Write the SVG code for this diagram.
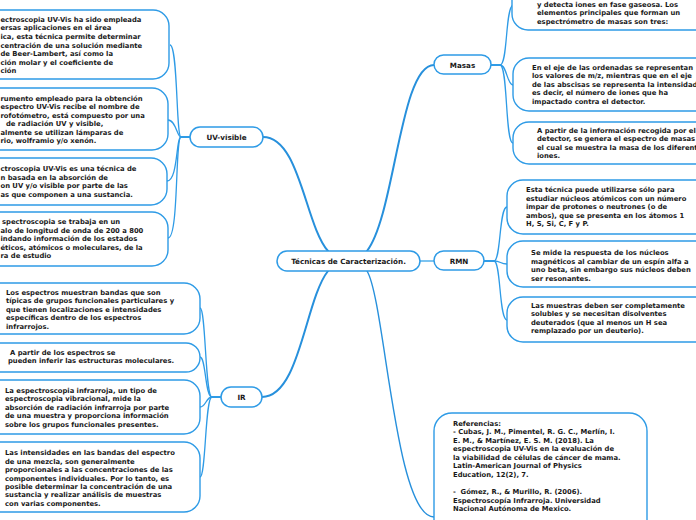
<svg xmlns="http://www.w3.org/2000/svg" width="696" height="520" viewBox="0 0 696 520">
<style>
.box{fill:#fff;stroke:#2e9be6;stroke-width:1.4}
.node{fill:#fff;stroke:#2e9be6;stroke-width:1.5}
.t{font-family:"DejaVu Sans",Verdana,sans-serif;font-weight:bold;font-size:6.8px;fill:#1a1a1a}
.h{font-family:"DejaVu Sans",Verdana,sans-serif;font-weight:bold;font-size:7.2px;fill:#1a1a1a;text-anchor:middle}
.main{fill:none;stroke:#2790dc;stroke-width:2;stroke-linecap:round}
.sub{fill:none;stroke:#2e9be6;stroke-width:1.3}
.lite{fill:none;stroke:#7cc3f0;stroke-width:2}
</style>
<rect width="696" height="520" fill="#fff"/>
<g id="connectors">
<path class="main" d="M328 251 C305 225 300 137 263 137"/>
<path class="main" d="M367 251 C395 215 400 65 434 65"/>
<path class="main" d="M328 271 C305 300 300 397 262 397"/>
<path class="main" d="M367 271 C385 300 395 517 434 517" style="stroke-width:1.4"/>
<path class="lite" d="M420 261 L434 261"/>
<!-- UV-visible children -->
<path class="sub" d="M190 137 L181 137 C176 137 178 45 170 45"/>
<path class="sub" d="M190 137 L181 137 C177 137 176 120 168 120"/>
<path class="sub" d="M190 137 L181 137 C176 137 178 181 167 181"/>
<path class="sub" d="M190 137 L181 137 C175 137 179 238 168 238"/>
<!-- Masas children -->
<path class="sub" d="M491 65 L500 65 C508 65 505 8 513 5"/>
<path class="sub" d="M491 65 L500 65 C507 65 507 85 513 85"/>
<path class="sub" d="M491 65 L500 65 C508 65 505 143 513 143"/>
<!-- RMN children -->
<path class="sub" d="M484 261 L494 261 C501 261 499 207 507 207"/>
<path class="sub" d="M484 261 L494 261 C501 261 500 264 507 264"/>
<path class="sub" d="M484 261 L494 261 C501 261 499 320 507 320"/>
<!-- IR children -->
<path class="sub" d="M221 397 L212 397 C205 397 206 308 200 308"/>
<path class="sub" d="M221 397 L212 397 C205 397 206 357 200 357"/>
<path class="sub" d="M221 397 L212 397 C206 397 206 407 200 407"/>
<path class="sub" d="M221 397 L212 397 C205 397 206 477 200 477"/>
</g>
<g id="central"><rect class="node" x="277" y="251" width="143" height="20" rx="10"/><text class="h" x="348.5" y="264">Técnicas de Caracterización.</text></g>
<g id="uvvisible"><rect class="node" x="190" y="127" width="73" height="20" rx="10"/><text class="h" x="226.5" y="140">UV-visible</text></g>
<g id="masas"><rect class="node" x="434" y="55" width="57" height="19" rx="9.5"/><text class="h" x="462.5" y="67.5">Masas</text></g>
<g id="rmn"><rect class="node" x="434" y="251" width="50" height="19" rx="9.5"/><text class="h" x="459" y="263.5">RMN</text></g>
<g id="ir"><rect class="node" x="221" y="387" width="41" height="20" rx="10"/><text class="h" x="241.5" y="400">IR</text></g>

<g id="uv1"><rect class="box" x="-20" y="10" width="189" height="69" rx="16"/>
<text class="t" x="0.5" y="21.8">ectroscopia UV-Vis ha sido empleada</text>
<text class="t" x="0.5" y="30.4">ersas aplicaciones en el área</text>
<text class="t" x="0.5" y="39">ica, esta técnica permite determinar</text>
<text class="t" x="0.5" y="47.6">centración de una solución mediante</text>
<text class="t" x="0.5" y="56.2">de Beer-Lambert, así como la</text>
<text class="t" x="0.5" y="64.8">ción molar y el coeficiente de</text>
<text class="t" x="0.5" y="73.4">ción</text></g>
<g id="uv2"><rect class="box" x="-20" y="88" width="188" height="62" rx="16"/>
<text class="t" x="0.5" y="100.5">rumento empleado para la obtención</text>
<text class="t" x="0.5" y="109">espectro UV-Vis recibe el nombre de</text>
<text class="t" x="0.5" y="117.5">rofotómetro, está compuesto por una</text>
<text class="t" x="6" y="126">de radiación UV y visible,</text>
<text class="t" x="0.5" y="134.5">almente se utilizan lámparas de</text>
<text class="t" x="0.5" y="143">rio, wolframio y/o xenón.</text></g>
<g id="uv3"><rect class="box" x="-20" y="158" width="187" height="47" rx="16"/>
<text class="t" x="0.5" y="171.3">ctroscopia UV-Vis es una técnica de</text>
<text class="t" x="0.5" y="179.8">n basada en la absorción de</text>
<text class="t" x="0.5" y="188.3">on UV y/o visible por parte de las</text>
<text class="t" x="0.5" y="196.8">as que componen a una sustancia.</text></g>
<g id="uv4"><rect class="box" x="-20" y="212" width="188" height="54" rx="16"/>
<text class="t" x="2" y="224.3">spectroscopia se trabaja en un</text>
<text class="t" x="0.5" y="232.8">alo de longitud de onda de 200 a 800</text>
<text class="t" x="0.5" y="241.3">indando información de los estados</text>
<text class="t" x="0.5" y="249.8">éticos, atómicos o moleculares, de la</text>
<text class="t" x="0.5" y="258.3">ra de estudio</text></g>

<g id="ir1"><rect class="box" x="-20" y="283" width="220" height="51" rx="16"/>
<text class="t" x="6" y="294.5">Los espectros muestran bandas que son</text>
<text class="t" x="6" y="303">típicas de grupos funcionales particulares y</text>
<text class="t" x="6" y="311.5">que tienen localizaciones e intensidades</text>
<text class="t" x="6" y="320">específicas dentro de los espectros</text>
<text class="t" x="6" y="328.5">infrarrojos.</text></g>
<g id="ir2"><rect class="box" x="-20" y="343" width="220" height="29" rx="14"/>
<text class="t" x="10" y="354.5">A partir de los espectros se</text>
<text class="t" x="8" y="363.3">pueden inferir las estructuras moleculares.</text></g>
<g id="ir3"><rect class="box" x="-20" y="380" width="220" height="54" rx="16"/>
<text class="t" x="5" y="392.5">La espectroscopia infrarroja, un tipo de</text>
<text class="t" x="5" y="401">espectroscopia vibracional, mide la</text>
<text class="t" x="5" y="409.5">absorción de radiación infrarroja por parte</text>
<text class="t" x="5" y="418">de una muestra y proporciona información</text>
<text class="t" x="5" y="426.5">sobre los grupos funcionales presentes.</text></g>
<g id="ir4"><rect class="box" x="-20" y="442" width="220" height="70" rx="16"/>
<text class="t" x="5" y="455.3">Las intensidades en las bandas del espectro</text>
<text class="t" x="5" y="463.7">de una mezcla, son generalmente</text>
<text class="t" x="5" y="472.1">proporcionales a las concentraciones de las</text>
<text class="t" x="5" y="480.5">componentes individuales. Por lo tanto, es</text>
<text class="t" x="5" y="488.9">posible determinar la concentración de una</text>
<text class="t" x="5" y="497.3">sustancia y realizar análisis de muestras</text>
<text class="t" x="5" y="505.7">con varias componentes.</text></g>

<g id="m1"><rect class="box" x="512" y="-20" width="210" height="50" rx="16"/>
<text class="t" x="537" y="6.5">y detecta iones en fase gaseosa. Los</text>
<text class="t" x="537" y="15">elementos principales que forman un</text>
<text class="t" x="537" y="23.5">espectrómetro de masas son tres:</text></g>
<g id="m2"><rect class="box" x="513" y="58" width="210" height="53" rx="16"/>
<text class="t" x="532" y="69.5">En el eje de las ordenadas se representan</text>
<text class="t" x="532" y="78">los valores de m/z, mientras que en el eje</text>
<text class="t" x="532" y="86.5">de las abscisas se representa la intensidad</text>
<text class="t" x="532" y="95">es decir, el número de iones que ha</text>
<text class="t" x="532" y="103.5">impactado contra el detector.</text></g>
<g id="m3"><rect class="box" x="513" y="122" width="210" height="42" rx="16"/>
<text class="t" x="537" y="132.5">A partir de la información recogida por el</text>
<text class="t" x="537" y="141">detector, se genera el espectro de masas</text>
<text class="t" x="537" y="149.5">el cual se muestra la masa de los diferentes</text>
<text class="t" x="537" y="158">iones.</text></g>

<g id="r1"><rect class="box" x="507" y="180" width="215" height="54" rx="16"/>
<text class="t" x="526" y="192.3">Esta técnica puede utilizarse sólo para</text>
<text class="t" x="526" y="200.8">estudiar núcleos atómicos con un número</text>
<text class="t" x="526" y="209.3">impar de protones o neutrones (o de</text>
<text class="t" x="526" y="217.8">ambos), que se presenta en los átomos 1</text>
<text class="t" x="526" y="226.3">H, S, Si, C, F y P.</text></g>
<g id="r2"><rect class="box" x="507" y="241" width="215" height="46" rx="16"/>
<text class="t" x="531" y="255">Se mide la respuesta de los núcleos</text>
<text class="t" x="531" y="263.5">magnéticos al cambiar de un espín alfa a</text>
<text class="t" x="531" y="272">uno beta, sin embargo sus núcleos deben</text>
<text class="t" x="531" y="280.5">ser resonantes.</text></g>
<g id="r3"><rect class="box" x="507" y="297" width="215" height="45" rx="16"/>
<text class="t" x="531" y="307.5">Las muestras deben ser completamente</text>
<text class="t" x="531" y="316">solubles y se necesitan disolventes</text>
<text class="t" x="531" y="324.5">deuterados (que al menos un H sea</text>
<text class="t" x="531" y="333">remplazado por un deuterio).</text></g>

<g id="refs"><rect class="box" x="434" y="413" width="213" height="130" rx="18"/>
<text class="t" x="453" y="425.5">Referencias:</text>
<text class="t" x="453" y="434">- Cubas, J. M., Pimentel, R. G. C., Merlín, I.</text>
<text class="t" x="453" y="442.5">E. M., &amp; Martínez, E. S. M. (2018). La</text>
<text class="t" x="453" y="451">espectroscopia UV-Vis en la evaluación de</text>
<text class="t" x="453" y="459.5">la viabilidad de células de cáncer de mama.</text>
<text class="t" x="453" y="468">Latin-American Journal of Physics</text>
<text class="t" x="453" y="476.5">Education, 12(2), 7.</text>
<text class="t" x="453" y="494" xml:space="preserve">-  Gómez, R., &amp; Murillo, R. (2006).</text>
<text class="t" x="453" y="502.5">Espectroscopía Infrarroja. Universidad</text>
<text class="t" x="453" y="511">Nacional Autónoma de Mexico.</text></g>
</svg>
